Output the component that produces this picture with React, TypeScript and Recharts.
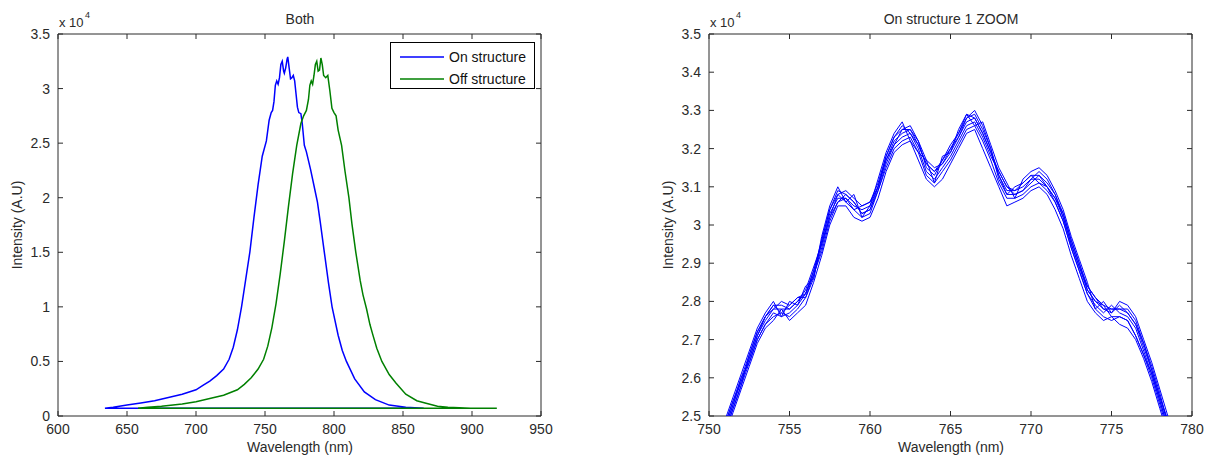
import { Legend, Line, LineChart, ReferenceArea, XAxis, YAxis } from "recharts";

const FONT = '"Liberation Sans", Arial, Helvetica, sans-serif';
const AXIS = "#2a2a2a";
const TEXT = "#2a2a2a";
const BLUE = "#0000ff";
const GREEN = "#008000";

// plot box inside each panel (local px)
const TOP = 34;
const BOTTOM = 416;
const LEFT = 58;
const RIGHT = 541;

// ---- left panel "Both" (intensity in units of 1e4)
const onWl = [
  634, 640, 650, 660, 670, 680, 690, 700, 705, 710, 715, 720, 724, 727, 730, 733, 736, 739, 742, 745, 748, 751,
  753, 754.5, 755.5, 756.5, 757.5, 758.5, 759.5, 760.5, 761.5, 762.5, 763.5, 764, 765, 766, 766.5, 767.5,
  768.5, 769.5, 770.5, 771.5, 772.5, 773.5, 774.5, 776, 777, 778.5, 780, 783, 786, 788, 790, 793, 796, 798.6,
  803, 806, 809, 815, 822, 830, 840, 852, 865, 634,
];
const onInt = [
  0.07, 0.08, 0.1, 0.12, 0.14, 0.17, 0.2, 0.24, 0.28, 0.32, 0.37, 0.43, 0.52, 0.63, 0.79, 1.0, 1.25, 1.5, 1.82, 2.12, 2.38, 2.52,
  2.71, 2.78, 2.8, 2.88, 3.03, 3.07, 3.04, 3.1, 3.22, 3.25, 3.16, 3.14, 3.19, 3.27, 3.29, 3.19,
  3.09, 3.1, 3.12, 3.07, 2.95, 2.83, 2.78, 2.77, 2.68, 2.48, 2.42, 2.26, 2.08, 1.96, 1.78, 1.5, 1.22, 1.0,
  0.74, 0.6, 0.5, 0.34, 0.22, 0.15, 0.1, 0.08, 0.07, 0.07,
];
const offWl = [
  658, 665, 675, 690, 700, 710, 720, 730, 735, 740, 745, 749, 752, 755, 758, 761, 764, 767, 770, 773, 776, 778,
  780, 781.5, 782.5, 783.5, 784.5, 785.5, 786.5, 787.5, 788.5, 789.5, 790.5, 791.5, 792.5, 794, 795.5, 797,
  798.5, 800, 801.5, 803, 805.5, 808, 810.8, 813, 815.8, 819, 821, 823.6, 826, 828, 831, 834.7, 840, 845,
  852, 860, 866, 875, 882.5, 899, 918, 658,
];
const offInt = [
  0.07, 0.08, 0.09, 0.11, 0.13, 0.16, 0.19, 0.24, 0.29, 0.35, 0.43, 0.52, 0.64, 0.81, 1.03, 1.3, 1.6, 1.92, 2.22, 2.48, 2.68, 2.75,
  2.8, 2.9, 3.03, 3.07, 3.04, 3.12, 3.22, 3.25, 3.16, 3.17, 3.28, 3.22, 3.12, 3.1, 3.12, 2.98,
  2.82, 2.78, 2.75, 2.62, 2.48, 2.24, 2.0, 1.76, 1.5, 1.24, 1.11, 0.98, 0.84, 0.75, 0.62, 0.5, 0.38, 0.3,
  0.2, 0.14, 0.12, 0.09, 0.08, 0.07, 0.07, 0.07,
];
const legendOrder = ["On structure", "Off structure"];
const bothXTicks = [600, 650, 700, 750, 800, 850, 900, 950];
const bothYTicks = [0, 0.5, 1, 1.5, 2, 2.5, 3, 3.5];

// ---- right panel "On structure 1 ZOOM": repeated acquisitions
const zoomWl = [
  751, 751.5, 752, 752.5, 753, 753.5, 754, 754.5, 755, 755.5, 756, 756.5, 757, 757.5, 758, 758.5, 759, 759.5,
  760, 760.5, 761, 761.5, 762, 762.5, 763, 763.5, 764, 764.5, 765, 765.5, 766, 766.5, 767, 767.5, 768, 768.5,
  769, 769.5, 770, 770.5, 771, 771.5, 772, 772.5, 773, 773.5, 774, 774.5, 775, 775.5, 776, 776.5, 777, 777.5,
  778, 778.5,
];
const run1 = [
  2.47, 2.53, 2.59, 2.65, 2.71, 2.75, 2.78, 2.78, 2.78, 2.8, 2.82, 2.88, 2.95, 3.03, 3.07, 3.07, 3.05, 3.04,
  3.05, 3.1, 3.17, 3.22, 3.24, 3.25, 3.21, 3.16, 3.14, 3.16, 3.19, 3.23, 3.27, 3.28, 3.24, 3.19, 3.13, 3.09,
  3.09, 3.1, 3.12, 3.12, 3.1, 3.07, 3.02, 2.95, 2.89, 2.83, 2.8, 2.78, 2.78, 2.78, 2.77, 2.74, 2.68, 2.62,
  2.55, 2.48,
];
const run2 = [
  2.46, 2.52, 2.58, 2.66, 2.72, 2.76, 2.79, 2.77, 2.79, 2.81, 2.81, 2.87, 2.94, 3.02, 3.08, 3.06, 3.04, 3.05,
  3.06, 3.11, 3.18, 3.23, 3.25, 3.26, 3.22, 3.15, 3.13, 3.17, 3.2, 3.24, 3.28, 3.29, 3.25, 3.2, 3.12, 3.08,
  3.1, 3.11, 3.13, 3.11, 3.09, 3.06, 3.01, 2.94, 2.88, 2.82, 2.79, 2.77, 2.79, 2.77, 2.76, 2.73, 2.67, 2.61,
  2.54, 2.47,
];
const run3 = [
  2.48, 2.54, 2.6, 2.64, 2.7, 2.74, 2.76, 2.77, 2.76, 2.78, 2.81, 2.86, 2.96, 3.04, 3.09, 3.08, 3.06, 3.03,
  3.04, 3.09, 3.16, 3.21, 3.23, 3.24, 3.2, 3.14, 3.12, 3.15, 3.18, 3.22, 3.26, 3.27, 3.23, 3.18, 3.14, 3.1,
  3.08, 3.09, 3.11, 3.13, 3.11, 3.08, 3.03, 2.96, 2.9, 2.84, 2.81, 2.79, 2.76, 2.76, 2.75, 2.71, 2.66, 2.6,
  2.53, 2.46,
];
const run4 = [
  2.47, 2.53, 2.6, 2.66, 2.72, 2.76, 2.79, 2.79, 2.78, 2.8, 2.83, 2.89, 2.95, 3.02, 3.06, 3.08, 3.06, 3.03,
  3.04, 3.1, 3.17, 3.21, 3.25, 3.25, 3.22, 3.17, 3.15, 3.16, 3.2, 3.23, 3.28, 3.3, 3.26, 3.2, 3.13, 3.08,
  3.08, 3.09, 3.12, 3.14, 3.12, 3.08, 3.02, 2.95, 2.89, 2.84, 2.81, 2.78, 2.77, 2.79, 2.77, 2.74, 2.69, 2.62,
  2.55, 2.49,
];
const run5 = [
  2.46, 2.52, 2.58, 2.64, 2.7, 2.74, 2.77, 2.76, 2.77, 2.79, 2.82, 2.87, 2.93, 3.01, 3.06, 3.07, 3.04, 3.02,
  3.03, 3.09, 3.15, 3.2, 3.22, 3.23, 3.19, 3.13, 3.11, 3.14, 3.17, 3.21, 3.25, 3.26, 3.22, 3.17, 3.11, 3.07,
  3.07, 3.08, 3.1, 3.11, 3.1, 3.06, 3.01, 2.94, 2.88, 2.82, 2.78, 2.76, 2.75, 2.76, 2.75, 2.71, 2.66, 2.61,
  2.54, 2.47,
];
const run6 = [
  2.48, 2.54, 2.59, 2.65, 2.71, 2.76, 2.78, 2.8, 2.79, 2.81, 2.82, 2.88, 2.96, 3.04, 3.08, 3.09, 3.07, 3.05,
  3.06, 3.1, 3.18, 3.23, 3.26, 3.24, 3.21, 3.16, 3.14, 3.17, 3.21, 3.24, 3.29, 3.28, 3.24, 3.19, 3.14, 3.1,
  3.09, 3.11, 3.13, 3.13, 3.1, 3.07, 3.03, 2.96, 2.9, 2.83, 2.8, 2.79, 2.78, 2.78, 2.78, 2.75, 2.69, 2.63,
  2.56, 2.48,
];
const run7 = [
  2.49, 2.55, 2.61, 2.67, 2.73, 2.77, 2.8, 2.76, 2.8, 2.79, 2.84, 2.86, 2.97, 3.05, 3.1, 3.06, 3.08, 3.02,
  3.05, 3.12, 3.19, 3.24, 3.27, 3.22, 3.19, 3.17, 3.11, 3.18, 3.19, 3.25, 3.29, 3.26, 3.27, 3.21, 3.15, 3.11,
  3.07, 3.12, 3.14, 3.15, 3.13, 3.09, 3.04, 2.97, 2.91, 2.85, 2.78, 2.8, 2.77, 2.8, 2.79, 2.76, 2.7, 2.64,
  2.57, 2.5,
];
const run8 = [
  2.45, 2.51, 2.57, 2.63, 2.69, 2.73, 2.75, 2.78, 2.75, 2.77, 2.79, 2.85, 2.92, 3.0, 3.05, 3.05, 3.02, 3.01,
  3.02, 3.07, 3.14, 3.19, 3.21, 3.22, 3.17, 3.12, 3.1, 3.12, 3.16, 3.2, 3.24, 3.25, 3.2, 3.15, 3.1, 3.05,
  3.06, 3.07, 3.09, 3.1, 3.08, 3.04, 2.99, 2.92, 2.86, 2.8, 2.77, 2.75, 2.76, 2.74, 2.73, 2.7, 2.65, 2.59,
  2.52, 2.45,
];
const runs = [run1, run2, run3, run4, run5, run6, run7, run8];
const zoomXTicks = [750, 755, 760, 765, 770, 775, 780];
const zoomYTicks = [2.5, 2.6, 2.7, 2.8, 2.9, 3, 3.1, 3.2, 3.3, 3.4, 3.5];

const onData = onWl.map((x, i) => ({ x, y: onInt[i] }));
const offData = offWl.map((x, i) => ({ x, y: offInt[i] }));
const zoomData = zoomWl.map((x, i) => {
  const row: Record<string, number> = { x };
  runs.forEach((r, k) => (row["r" + k] = r[i]));
  return row;
});

function XTick(props: any) {
  const { x, y, payload } = props;
  return (
    <g>
      <line x1={x} x2={x} y1={y} y2={y - 5} stroke={AXIS} />
      <line x1={x} x2={x} y1={TOP} y2={TOP + 5} stroke={AXIS} />
      <text x={x} y={y + 17.5} textAnchor="middle" fill={TEXT} fontSize={14} fontFamily={FONT}>
        {String(payload.value)}
      </text>
    </g>
  );
}

function YTick(props: any) {
  const { x, y, payload } = props;
  return (
    <g>
      <line x1={x} x2={x + 5} y1={y} y2={y} stroke={AXIS} />
      <line x1={RIGHT} x2={RIGHT - 5} y1={y} y2={y} stroke={AXIS} />
      <text x={x - 8} y={y + 5} textAnchor="end" fill={TEXT} fontSize={14} fontFamily={FONT}>
        {String(payload.value)}
      </text>
    </g>
  );
}

function LegendBox(props: any) {
  const items = [...(props.payload || [])].sort(
    (a: any, b: any) => legendOrder.indexOf(a.value) - legendOrder.indexOf(b.value)
  );
  return (
    <div
      style={{
        width: 145,
        height: 47,
        boxSizing: "border-box",
        border: "1px solid #000",
        background: "#fff",
        paddingTop: 3,
        fontFamily: FONT,
        fontSize: 14,
        color: "#111",
      }}
    >
      {items.map((p: any) => (
        <div key={p.value} style={{ display: "flex", alignItems: "center", height: 22 }}>
          <svg width={58} height={10} style={{ display: "block" }}>
            <line x1={9} x2={53} y1={5} y2={5} stroke={p.color} strokeWidth={1.3} />
          </svg>
          <span style={{ lineHeight: "14px" }}>{p.value}</span>
        </div>
      ))}
    </div>
  );
}

function Labels({ title, width }: { title: string; width: number }) {
  return (
    <svg
      width={width}
      height={458}
      style={{ position: "absolute", left: 0, top: 0, pointerEvents: "none" }}
      fontFamily={FONT}
      fill={TEXT}
    >
      <text x={300} y={24} textAnchor="middle" fontSize={14}>
        {title}
      </text>
      <text x={59} y={27} fontSize={13}>
        x 10
      </text>
      <text x={85} y={17.5} fontSize={9}>
        4
      </text>
      <text x={22} y={225} textAnchor="middle" fontSize={14} transform="rotate(-90 22 225)">
        Intensity (A.U)
      </text>
      <text x={300} y={452} textAnchor="middle" fontSize={14}>
        Wavelength (nm)
      </text>
    </svg>
  );
}

export default function App() {
  return (
    <div style={{ position: "absolute", left: 0, top: 0, width: 1214, height: 458, background: "#fff" }}>
      <div style={{ position: "absolute", left: 0, top: 0, width: 600, height: 458 }}>
        <LineChart width={600} height={458} margin={{ top: TOP, right: 600 - RIGHT, bottom: 458 - BOTTOM - 30, left: LEFT - 50 }}>
          <XAxis
            dataKey="x"
            type="number"
            domain={[600, 950]}
            ticks={bothXTicks}
            interval={0}
            allowDataOverflow
            axisLine={false}
            tickLine={false}
            tickSize={0}
            tickMargin={0}
            height={30}
            tick={<XTick />}
          />
          <YAxis
            type="number"
            domain={[0, 3.5]}
            ticks={bothYTicks}
            interval={0}
            allowDataOverflow
            axisLine={false}
            tickLine={false}
            tickSize={0}
            tickMargin={0}
            width={50}
            tick={<YTick />}
          />
          <ReferenceArea x1={600} x2={950} y1={0} y2={3.5} fill="none" stroke={AXIS} strokeWidth={1} />
          <Line data={onData} dataKey="y" name="On structure" type="linear" stroke={BLUE} strokeWidth={1.5} dot={false} isAnimationActive={false} />
          <Line data={offData} dataKey="y" name="Off structure" type="linear" stroke={GREEN} strokeWidth={1.5} dot={false} isAnimationActive={false} />
          <Legend
            layout="vertical"
            align="center"
            verticalAlign="middle"
            wrapperStyle={{ left: 390, top: 42, width: 145, height: 47 }}
            content={<LegendBox />}
          />
        </LineChart>
        <Labels title="Both" width={600} />
      </div>
      <div style={{ position: "absolute", left: 651, top: 0, width: 563, height: 458 }}>
        <LineChart width={563} height={458} data={zoomData} margin={{ top: TOP, right: 563 - RIGHT, bottom: 458 - BOTTOM - 30, left: LEFT - 50 }}>
          <XAxis
            dataKey="x"
            type="number"
            domain={[750, 780]}
            ticks={zoomXTicks}
            interval={0}
            allowDataOverflow
            axisLine={false}
            tickLine={false}
            tickSize={0}
            tickMargin={0}
            height={30}
            tick={<XTick />}
          />
          <YAxis
            type="number"
            domain={[2.5, 3.5]}
            ticks={zoomYTicks}
            interval={0}
            allowDataOverflow
            axisLine={false}
            tickLine={false}
            tickSize={0}
            tickMargin={0}
            width={50}
            tick={<YTick />}
          />
          <ReferenceArea x1={750} x2={780} y1={2.5} y2={3.5} fill="none" stroke={AXIS} strokeWidth={1} />
          {runs.map((_, k) => (
            <Line key={k} dataKey={"r" + k} type="linear" stroke={BLUE} strokeWidth={1} dot={false} isAnimationActive={false} />
          ))}
        </LineChart>
        <Labels title="On structure 1 ZOOM" width={563} />
      </div>
    </div>
  );
}
